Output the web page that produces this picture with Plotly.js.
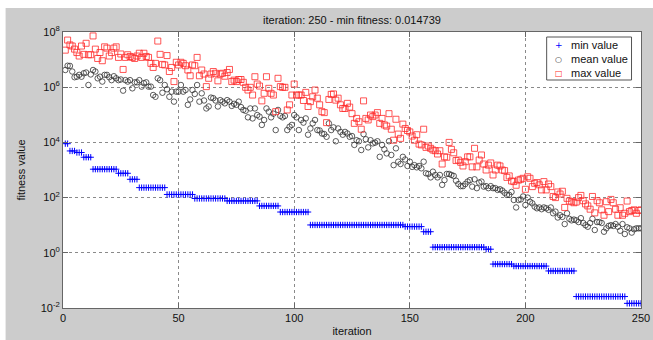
<!DOCTYPE html>
<html>
<head>
<meta charset="utf-8">
<script src="https://cdn.plot.ly/plotly-3.0.1.min.js"></script>
<style>html,body{margin:0;padding:0;background:#fff;}#chart{width:653px;height:340px;}</style>
</head>
<body>
<div id="chart"></div>
<script>
// ---- data (iterations 1..250) ----
const iterationCount = 250;
const xTickValues = [0, 50, 100, 150, 200, 250];
const yTickValues = [1e-2, 1, 1e2, 1e4, 1e6, 1e8];
const yTickLabels = ['10<sup>-2</sup>', '10<sup>0</sup>', '10<sup>2</sup>', '10<sup>4</sup>', '10<sup>6</sup>', '10<sup>8</sup>'];
const seriesNames = ['min value', 'mean value', 'max value'];
const seriesColors = ['#0000ff', '#333333', '#ff2a2a'];
const legendGlyphs = ['+', '\u25CB', '\u25A1'];

const minValues = [
  9.0e3, 9.0e3,
  4.9e3, 4.9e3, 4.9e3,
  4.3e3, 4.3e3, 4.3e3,
  2.9e3, 2.9e3, 2.9e3, 2.9e3,
  1.07e3, 1.07e3, 1.07e3, 1.07e3, 1.07e3, 1.07e3, 1.07e3, 1.07e3, 1.07e3, 1.07e3, 1.07e3,
  760, 760, 760, 760, 760,
  460, 460, 460, 460,
  230, 230, 230, 230, 230, 230, 230, 230, 230, 230, 230, 230,
  130, 130, 130, 130, 130, 130, 130, 130, 130, 130, 130, 130,
  93, 93, 93, 93, 93, 93, 93, 93, 93, 93, 93, 93, 93, 93,
  76, 76, 76, 76, 76, 76, 76, 76, 76, 76, 76, 76, 76, 76,
  50, 50, 50, 50, 50, 50, 50, 50, 50,
  30, 30, 30, 30, 30, 30, 30, 30, 30, 30, 30, 30, 30,
  10.2, 10.2, 10.2, 10.2, 10.2, 10.2, 10.2, 10.2, 10.2, 10.2,
  10.2, 10.2, 10.2, 10.2, 10.2, 10.2, 10.2, 10.2, 10.2, 10.2,
  10.2, 10.2, 10.2, 10.2, 10.2, 10.2, 10.2, 10.2, 10.2, 10.2,
  10.2, 10.2, 10.2, 10.2, 10.2, 10.2, 10.2, 10.2, 10.2, 10.2, 10.2,
  8.9, 8.9, 8.9, 8.9, 8.9, 8.9, 8.9, 8.9,
  5.8, 5.8, 5.8, 5.8,
  1.6, 1.6, 1.6, 1.6, 1.6, 1.6, 1.6, 1.6, 1.6, 1.6,
  1.6, 1.6, 1.6, 1.6, 1.6, 1.6, 1.6, 1.6, 1.6, 1.6, 1.6, 1.6, 1.6,
  1.35, 1.35, 1.35,
  0.39, 0.39, 0.39, 0.39, 0.39, 0.39, 0.39, 0.39, 0.39,
  0.33, 0.33, 0.33, 0.33, 0.33, 0.33, 0.33, 0.33, 0.33, 0.33, 0.33, 0.33, 0.33, 0.33, 0.33,
  0.22, 0.22, 0.22, 0.22, 0.22, 0.22, 0.22, 0.22, 0.22, 0.22, 0.22, 0.22,
  0.026, 0.026, 0.026, 0.026, 0.026, 0.026, 0.026, 0.026, 0.026, 0.026, 0.026,
  0.026, 0.026, 0.026, 0.026, 0.026, 0.026, 0.026, 0.026, 0.026, 0.026, 0.026,
  0.014739, 0.014739, 0.014739, 0.014739, 0.014739, 0.014739, 0.014739
];

const meanValues = [
  4.2e6, 6.0e6, 5.9e6, 3.7e6, 2.3e6, 2.4e6, 2.8e6, 2.4e6, 3.2e6, 3.4e6,
  1.2e6, 2.9e6, 4.2e6, 3.7e6, 2.1e6, 2.4e6, 1.6e6, 2.8e6, 2.8e6, 2.3e6,
  1.8e6, 2.5e6, 2.1e6, 1.8e6, 1.9e6, 7.5e5, 1.8e6, 1.6e6, 1.8e6, 9.1e5,
  1.5e6, 1.5e6, 1.8e6, 1.05e6, 1.4e6, 1.5e6, 1.05e6, 1.05e6, 5.2e5, 4.5e5,
  2.1e6, 1.8e6, 6.3e5, 1.2e6, 8.4e5, 4.5e5, 6.9e5, 3.0e5, 6.9e5, 6.9e5,
  1.2e6, 6.9e5, 7.9e5, 2.3e5, 3.6e5, 7.9e5, 5.7e5, 1.2e6, 3.0e5, 6.0e5,
  3.3e5, 1.7e5,
  2.0e5, 4.2e5, 4.0e5, 3.3e5, 2.0e5, 3.4e5, 3.0e5, 2.6e5, 3.4e5, 3.0e5,
  2.1e5, 2.5e5, 2.3e5, 3.0e5, 1.9e5, 1.5e5, 1.4e5, 8.1e4, 1.7e5, 7.4e4,
  1.7e5, 9.8e4, 8.6e4, 4.3e4, 6.5e4, 1.7e5, 1.3e5, 8.1e4, 1.1e5, 2.8e4,
  1.5e5, 9.1e4, 8.1e4, 9.1e4, 2.8e4, 3.7e4, 4.3e4, 9.8e4, 8.1e4, 2.8e4,
  6.5e4, 5.2e4, 7.4e4, 1.9e4, 3.2e4, 4.9e4, 6.5e4, 2.8e4, 2.7e4, 2.1e4,
  2.0e4, 1.6e4, 4.9e4, 2.8e4, 3.5e4, 1.1e4, 3.2e4, 2.4e4, 1.9e4, 2.4e4,
  2.1e4, 1.6e4, 1.7e4, 8.1e3,
  1.2e4, 1.1e4, 5.3e3, 2.0e4, 1.3e4, 6.6e3, 1.2e4, 9.2e3, 9.8e3, 1.1e4,
  3.0e3, 8.1e3, 5.6e3, 4.0e3, 1.1e4, 3.5e3, 1.5e3, 6.1e3, 2.0e3, 1.65e3,
  3.0e3, 2.4e3, 1.4e3, 2.0e3, 1.3e3, 1.5e3, 1.25e3, 1.4e3, 1.15e3, 2.0e3,
  760, 720, 540, 870, 660, 540, 660, 290, 430, 720,
  720, 660, 610, 410, 310, 260, 260, 310, 380, 430,
  250, 460, 220, 350, 380, 250, 260, 220, 260, 220,
  220, 190,
  200, 180, 150, 125, 125, 160, 82, 44, 82, 86,
  110, 54, 100, 71, 62, 47, 41, 44, 38, 44,
  41, 36, 44, 27, 31, 19, 23, 20, 11, 27,
  17, 15, 16, 15, 13, 18, 12, 10, 8.8, 12,
  17, 6.7, 13, 13, 12, 5.8, 7.7, 9.4, 10, 9.4,
  11, 8.8, 6.3, 11, 4.8, 8.4, 7.7, 5.4, 7.1, 7.7,
  7.7, 7.7
];

const maxValues = [
  2.2e7, 5.1e7, 3.4e7, 3.1e7, 2.4e7, 1.8e7, 1.35e7, 3.1e7, 1.55e7, 3.9e7,
  1.5e7, 1.5e7, 7.2e7, 2.4e7, 1.1e7, 1.8e7, 9.1e6, 2.9e7, 2.6e7, 1.35e7,
  1.8e7, 2.6e7, 2.9e7, 1.2e7, 1.6e7, 4.4e6, 1.2e7, 1.5e7, 1.3e7, 1.2e7,
  1.1e7, 1.35e7, 1.7e7, 1.2e7, 1.7e7, 1.3e7, 1.2e7, 7.3e6, 5.2e6, 7.3e6,
  4.7e7, 1.55e7, 6.7e6, 6.4e6, 1.4e7, 3.7e6, 5.2e6, 1.6e6, 8.0e6, 6.4e6,
  8.0e6, 7.3e6, 6.0e6, 4.2e6, 2.6e6, 6.4e6, 6.0e6, 1.2e7, 2.6e6, 4.2e6,
  3.0e6, 1.05e6,
  2.1e6, 3.0e6, 3.7e6, 3.2e6, 1.7e6, 3.0e6, 3.2e6, 2.5e6, 3.4e6, 4.4e6,
  1.6e6, 1.8e6, 1.6e6, 1.9e6, 1.9e6, 1.5e6, 9.9e5, 7.9e5, 9.9e5, 5.2e5,
  2.4e6, 1.3e6, 1.1e6, 3.2e5, 6.0e5, 2.4e6, 9.1e5, 6.0e5, 5.2e5, 1.3e5,
  2.1e6, 1.05e6, 9.9e5, 9.9e5, 1.5e5, 2.3e5, 5.2e5, 1.3e6, 5.2e5, 5.2e5,
  5.2e5, 3.3e5, 6.5e5, 2.0e5, 3.0e5, 4.5e5, 7.9e5, 4.0e5, 2.3e5, 1.3e5,
  1.2e5, 5.2e4, 3.6e5, 5.5e5, 5.7e5, 3.4e5, 4.0e5, 2.3e5, 1.7e5, 1.7e5,
  2.6e5, 1.9e5, 1.1e5, 4.9e4,
  7.4e4, 5.6e4, 3.0e4, 3.2e5, 7.4e4, 6.5e4, 9.8e4, 8.6e4, 9.8e4, 1.2e5,
  4.9e4, 7.4e4, 4.3e4, 3.9e4, 1.1e5, 3.0e4, 1.2e4, 6.9e4, 2.0e4, 1.4e4,
  4.6e4, 3.2e4, 2.7e4, 2.4e4, 1.7e4, 1.2e4, 1.9e4, 8.7e3, 8.1e3, 3.0e4,
  6.6e3, 7.4e3, 6.1e3, 5.3e3, 5.0e3, 3.8e3, 5.0e3, 1.65e3, 3.0e3, 2.9e3,
  1.0e4, 5.6e3, 4.2e3, 2.2e3, 2.3e3, 1.9e3, 1.4e3, 2.0e3, 3.0e3, 3.0e3,
  1.3e3, 6.1e3, 1.3e3, 2.3e3, 3.5e3, 1.65e3, 1.0e3, 1.5e3, 1.8e3, 660,
  1.0e3, 1.5e3,
  1.4e3, 1.0e3, 950, 540, 610, 400, 380, 280, 430, 460,
  500, 200, 570, 500, 250, 330, 350, 290, 190, 380,
  190, 310, 250, 110, 100, 160, 135, 170, 44, 94,
  75, 71, 65, 69, 100, 120, 77, 59, 50, 38,
  110, 28, 77, 65, 36, 23, 71, 31, 86, 65,
  38, 23, 43, 23, 27, 75, 31, 34, 36, 27,
  34, 36
];

// ---- build chart ----
const iterations = [];
for (let i = 1; i <= iterationCount; i++) iterations.push(i);

const font = 'Arial, "Liberation Sans", sans-serif';

// plot area in pixels (for placing the boxed legend)
const plotL = 62.5, plotW = 579, plotB = 308, plotH = 276;
const px2x = p => (p - plotL) / plotW;
const py2y = p => (plotB - p) / plotH;

const traces = [
  {
    x: iterations, y: minValues, name: seriesNames[0], type: 'scatter', mode: 'markers', showlegend: false,
    marker: { symbol: 'cross-thin', size: 4.5, color: seriesColors[0], line: { color: seriesColors[0], width: 1 } }
  },
  {
    x: iterations, y: meanValues, name: seriesNames[1], type: 'scatter', mode: 'markers', showlegend: false,
    marker: { symbol: 'circle-open', size: 5.5, color: seriesColors[1], line: { width: 0.8 } }
  },
  {
    x: iterations, y: maxValues, name: seriesNames[2], type: 'scatter', mode: 'markers', showlegend: false,
    marker: { symbol: 'square-open', size: 6, color: seriesColors[2], line: { width: 0.8 } }
  }
];

const axisCommon = {
  showline: true, linecolor: '#666666', linewidth: 1, mirror: 'ticks',
  ticks: 'inside', ticklen: 5, tickcolor: '#666666', tickwidth: 1,
  showgrid: true, gridcolor: '#8a8a8a', gridwidth: 1, griddash: 'dot',
  zeroline: false,
  tickfont: { family: font, size: 11, color: '#111111' }
};

// boxed legend (MATLAB style, compact rows)
const legendRowsPy = [45, 59, 73];
const annotations = [];
seriesNames.forEach((name, i) => {
  annotations.push({
    xref: 'paper', yref: 'paper', x: px2x(559), y: py2y(legendRowsPy[i]),
    text: legendGlyphs[i], showarrow: false, xanchor: 'center', yanchor: 'middle',
    font: { family: '"DejaVu Sans", sans-serif', size: i === 0 ? 9 : 8, color: seriesColors[i] }
  });
  annotations.push({
    xref: 'paper', yref: 'paper', x: px2x(569), y: py2y(legendRowsPy[i]),
    text: name, showarrow: false, xanchor: 'left', yanchor: 'middle',
    font: { family: font, size: 11, color: '#111111' }
  });
});

const layout = {
  width: 653, height: 340,
  margin: { l: 62.5, r: 11.5, t: 32, b: 32, pad: 0 },
  paper_bgcolor: '#cccccc',
  plot_bgcolor: '#ffffff',
  showlegend: false,
  title: {
    text: 'iteration: 250 - min fitness: 0.014739',
    font: { family: font, size: 11, color: '#111111' },
    x: 352 / 653, xanchor: 'center', xref: 'container',
    y: 1 - 20 / 340, yanchor: 'middle', yref: 'container'
  },
  xaxis: Object.assign({}, axisCommon, {
    range: [0, 250], tickvals: xTickValues,
    title: { text: 'iteration', font: { family: font, size: 11, color: '#111111' }, standoff: 4 }
  }),
  yaxis: Object.assign({}, axisCommon, {
    type: 'log', range: [-2, 8], tickvals: yTickValues, ticktext: yTickLabels,
    title: { text: 'fitness value', font: { family: font, size: 11, color: '#111111' }, standoff: 12 }
  }),
  annotations: annotations,
  shapes: [
    { type: 'rect', xref: 'paper', yref: 'paper', x0: px2x(547), x1: px2x(632), y0: py2y(80), y1: py2y(37),
      fillcolor: '#ffffff', line: { color: '#555555', width: 1 }, layer: 'above' },
    { type: 'rect', xref: 'paper', yref: 'paper', x0: -0.2, x1: 1.2, y0: py2y(8), y1: 1.3,
      fillcolor: '#ffffff', line: { width: 0 }, layer: 'above' },
    { type: 'rect', xref: 'paper', yref: 'paper', x0: -0.2, x1: px2x(5), y0: -0.3, y1: 1.3,
      fillcolor: '#ffffff', line: { width: 0 }, layer: 'above' }
  ]
};

Plotly.newPlot('chart', traces, layout, { displayModeBar: false, staticPlot: true });
</script>
</body>
</html>
